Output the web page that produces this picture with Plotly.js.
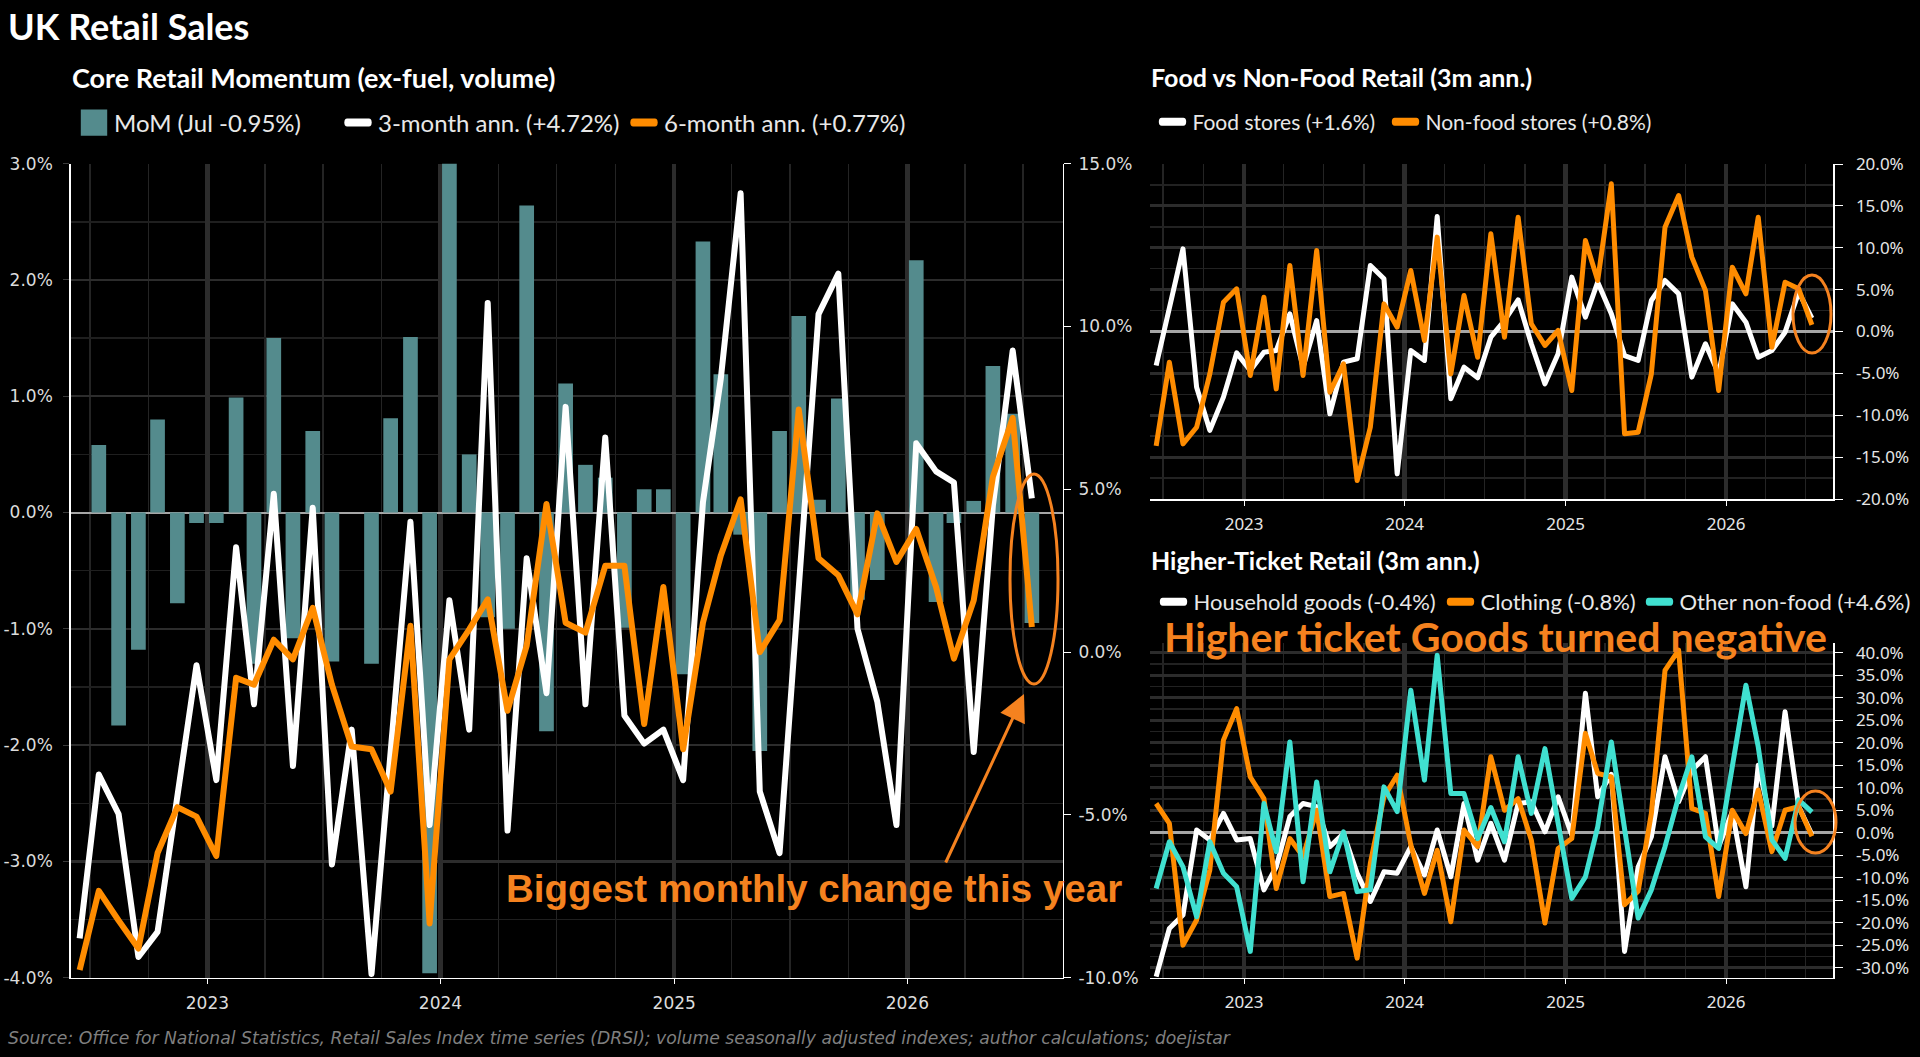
<!DOCTYPE html>
<html>
<head>
<meta charset="utf-8">
<title>UK Retail Sales</title>
<script src="https://cdn.plot.ly/plotly-3.0.1.min.js"></script>
<style>
  html, body { margin: 0; padding: 0; background: #000; }
  #chart { width: 1920px; height: 1057px; }
  .js-line { stroke-linejoin: round; }
  /* chunkier legend keys, like the original */
  .legendlines path {
    stroke-width: 8px !important;
    stroke-linecap: round;
    transform: translate(20px, 0px) scale(0.72, 1) translate(-20px, 0px);
  }
  .legendpoints path { transform: translate(20px, 0px) scale(2.2) !important; }
</style>
</head>
<body>
<div id="chart"></div>
<script>
// Monthly observations, Jun 2022 .. Jul 2026
const MONTHS = [
  '2022-06', '2022-07', '2022-08', '2022-09', '2022-10', '2022-11', '2022-12',
  '2023-01', '2023-02', '2023-03', '2023-04', '2023-05', '2023-06',
  '2023-07', '2023-08', '2023-09', '2023-10', '2023-11', '2023-12',
  '2024-01', '2024-02', '2024-03', '2024-04', '2024-05', '2024-06',
  '2024-07', '2024-08', '2024-09', '2024-10', '2024-11', '2024-12',
  '2025-01', '2025-02', '2025-03', '2025-04', '2025-05', '2025-06',
  '2025-07', '2025-08', '2025-09', '2025-10', '2025-11', '2025-12',
  '2026-01', '2026-02', '2026-03', '2026-04', '2026-05', '2026-06', '2026-07'
];

// Core retail momentum (%)
const MOM = [
  null, 0.58, -1.83, -1.18, 0.80, -0.78, -0.09, -0.09, 0.99, -1.30,
  1.50, -1.08, 0.70, -1.28, 0.00, -1.30, 0.81, 1.51, -3.96, 3.00,
  0.50, -0.90, -1.00, 2.64, -1.88, 1.11, 0.41, 0.30, -0.99, 0.20,
  0.20, -1.39, 2.33, 1.19, -0.19, -2.05, 0.70, 1.69, 0.11, 0.98,
  -0.75, -0.58, 0.00, 2.17, -0.77, -0.09, 0.10, 1.26, 0.85, -0.95
];
const ANN_3M = [
  -8.79, -3.76, -4.97, -9.36, -8.59, -4.5, -0.40, -3.93, 3.22, -1.60,
  4.86, -3.50, 4.43, -6.52, -2.38, -9.88, -2.9, 4.0, -5.31, 1.59,
  -2.38, 10.72, -5.48, 2.88, -1.26, 7.53, -1.60, 6.59, -1.95, -2.81,
  -2.38, -3.93, 4.6, 8.4, 14.09, -4.28, -6.17, 2.2, 10.38, 11.62,
  0.72, -1.52, -5.31, 6.41, 5.55, 5.21, -3.07, 4.5, 9.26, 4.72
];
const ANN_6M = [
  -9.76, -7.33, -8.24, -9.10, -6.17, -4.76, -5.05, -6.26, -0.79, -1.0,
  0.38, -0.22, 1.36, -1.0, -2.90, -2.98, -4.28, 0.81, -8.33, -0.22,
  0.7, 1.62, -1.8, 0.2, 4.55, 0.9, 0.6, 2.65, 2.65, -2.21,
  2.0, -2.98, 0.90, 2.97, 4.69, 0.0, 0.98, 7.45, 2.88, 2.36,
  1.16, 4.26, 2.77, 3.78, 2.0, -0.2, 1.59, 5.38, 7.19, 0.77
];

// Food vs non-food (3m ann., %)
const FOOD = [
  -4.06, 2.9, 9.87, -6.65, -11.8, -7.84, -2.55, -4.66, -2.47, -2.27,
  2.11, -4.26, 1.31, -9.83, -3.66, -3.26, 7.88, 6.29, -17.0, -2.27,
  -3.46, 13.73, -8.04, -4.26, -5.53, -0.68, 1.31, 3.78, -1.47, -6.25,
  -2.67, 6.49, 1.71, 5.89, 2.11, -2.87, -3.46, 3.70, 6.09, 4.50,
  -5.45, -1.47, -5.06, 3.30, 1.11, -3.07, -2.27, -0.08, 4.70, 1.6
];
const NON_FOOD = [
  -13.65, -3.66, -13.42, -11.43, -5.06, 3.50, 5.10, -5.25, 4.10, -6.85,
  7.88, -5.25, 9.67, -7.25, -3.86, -17.8, -11.43, 3.30, 0.52, 7.29,
  -1.07, 11.27, -5.06, 4.30, -3.07, 11.66, -0.68, 13.65, 0.92, -1.67,
  0.12, -7.05, 10.87, 6.09, 17.64, -12.22, -12.02, -5.06, 12.46, 16.24,
  8.88, 4.90, -7.05, 7.68, 4.50, 13.65, -1.87, 5.89, 5.10, 0.8
];

// Higher-ticket retail (3m ann., %)
const HOUSEHOLD = [
  -32.0, -21.3, -18.3, 0.6, -1.6, 4.3, -1.6, -1.3, -12.7, -7.6,
  3.6, 6.5, 5.8, -3.1, -0.2, -9.0, -15.3, -8.7, -9.0, -3.1,
  -9.4, 0.6, -9.8, 6.5, -6.1, 2.1, -6.1, 6.5, 6.9, 0.2,
  8.0, -0.5, 31.0, 8.0, 13.0, -26.4, -7.6, -0.9, 16.9, 6.9,
  13.9, 16.9, -3.1, 4.7, -12.0, 15.0, 1.5, 26.9, 5.8, -0.4
];
const CLOTHING = [
  6.5, 2.1, -25.0, -19.4, -8.3, 20.6, 27.6, 12.4, 7.6, -12.4,
  -1.3, -5.3, 5.0, -14.2, -13.5, -27.9, -6.8, 8.0, 12.8, -2.7,
  -13.5, -3.9, -19.8, 0.6, -3.1, 16.9, 5.0, 7.6, -1.6, -20.1,
  -3.5, -1.3, 22.1, 13.2, 12.4, -16.0, -13.0, 4.3, 36.1, 40.6,
  5.4, 4.3, -14.2, 5.0, -0.2, 9.5, -4.2, 5.0, 5.8, -0.8
];
const OTHER_NON_FOOD = [
  -12.4, -2.0, -7.6, -18.7, -2.0, -9.0, -12.0, -26.4, 6.5, -4.2,
  20.2, -10.9, 11.3, -8.7, 0.2, -13.1, -12.7, 10.2, 4.7, 31.7,
  11.7, 39.5, 8.7, 8.7, -1.3, 5.6, -2.0, 16.9, 4.3, 18.7,
  2.1, -14.6, -9.8, 1.3, 20.2, 0.6, -19.0, -12.7, -3.1, 8.0,
  16.9, -0.9, -3.5, 14.7, 32.8, 19.1, -1.6, -5.7, 7.3, 4.6
];

// Tick labels (plain hyphen minus, as in the original)
const MOM_TICKS = [-4, -3, -2, -1, 0, 1, 2, 3];
const MOM_LABELS = ['-4.0%', '-3.0%', '-2.0%', '-1.0%', '0.0%', '1.0%', '2.0%', '3.0%'];
const ANN_TICKS = [-10, -5, 0, 5, 10, 15];
const ANN_LABELS = ['-10.0%', '-5.0%', '0.0%', '5.0%', '10.0%', '15.0%'];
const FOOD_TICKS = [-20, -15, -10, -5, 0, 5, 10, 15, 20];
const FOOD_LABELS = ['-20.0%', '-15.0%', '-10.0%', '-5.0%', '0.0%', '5.0%', '10.0%', '15.0%', '20.0%'];
const TICKET_TICKS = [-30, -25, -20, -15, -10, -5, 0, 5, 10, 15, 20, 25, 30, 35, 40];
const TICKET_LABELS = ['-30.0%', '-25.0%', '-20.0%', '-15.0%', '-10.0%', '-5.0%', '0.0%', '5.0%',
  '10.0%', '15.0%', '20.0%', '25.0%', '30.0%', '35.0%', '40.0%'];

const NAMES = {
  mom: 'MoM (Jul -0.95%)',
  ann3: '3-month ann. (+4.72%)',
  ann6: '6-month ann. (+0.77%)',
  food: 'Food stores (+1.6%)',
  nonFood: 'Non-food stores (+0.8%)',
  household: 'Household goods (-0.4%)',
  clothing: 'Clothing (-0.8%)',
  other: 'Other non-food (+4.6%)'
};

// Colours
const WHITE = '#ffffff';
const ORANGE = '#ff8c00';
const TEAL = '#40e0d0';
const BAR = '#548b8d';
const NOTE = '#f5821f';

// Pixel helpers (canvas is 1920 x 1057, no margins)
const W = 1920, H = 1057;
const px = x => x / W;
const py = y => 1 - y / H;

// Plot at mid-month
const dates = MONTHS.map(m => m + '-15');

const traces = [
  { type: 'bar', x: dates, y: MOM, name: NAMES.mom, xaxis: 'x', yaxis: 'y',
    marker: { color: BAR }, width: 23 * 86400000, legend: 'legend', legendwidth: 219 },
  { type: 'scatter', mode: 'lines', x: dates, y: ANN_3M, name: NAMES.ann3, xaxis: 'x', yaxis: 'y2',
    line: { color: WHITE, width: 6 }, legend: 'legend', legendwidth: 241 },
  { type: 'scatter', mode: 'lines', x: dates, y: ANN_6M, name: NAMES.ann6, xaxis: 'x', yaxis: 'y2',
    line: { color: ORANGE, width: 6 }, legend: 'legend' },

  { type: 'scatter', mode: 'lines', x: dates, y: FOOD, name: NAMES.food, xaxis: 'x2', yaxis: 'y3',
    line: { color: WHITE, width: 5 }, legend: 'legend2', legendwidth: 188 },
  { type: 'scatter', mode: 'lines', x: dates, y: NON_FOOD, name: NAMES.nonFood, xaxis: 'x2', yaxis: 'y3',
    line: { color: ORANGE, width: 5 }, legend: 'legend2' },

  { type: 'scatter', mode: 'lines', x: dates, y: HOUSEHOLD, name: NAMES.household, xaxis: 'x3', yaxis: 'y4',
    line: { color: WHITE, width: 5 }, legend: 'legend3', legendwidth: 242 },
  { type: 'scatter', mode: 'lines', x: dates, y: CLOTHING, name: NAMES.clothing, xaxis: 'x3', yaxis: 'y4',
    line: { color: ORANGE, width: 5 }, legend: 'legend3', legendwidth: 154 },
  { type: 'scatter', mode: 'lines', x: dates, y: OTHER_NON_FOOD, name: NAMES.other, xaxis: 'x3', yaxis: 'y4',
    line: { color: TEAL, width: 5 }, legend: 'legend3' }
];

const mainTickFont = { family: 'DejaVu Sans', size: 17, color: '#dcdcdc' };
const sideTickFont = { family: 'Noto Sans', size: 17, color: '#e6e6e6' };

function dateAxis(domain, anchor, font) {
  return {
    type: 'date', domain: domain, anchor: anchor,
    range: ['2022-06-01', '2026-09-01'],
    tick0: '2023-01-01', dtick: 'M12', tickformat: '%Y',
    showgrid: true, gridcolor: '#2c2c2c', gridwidth: 4.5,
    minor: { dtick: 'M3', showgrid: true, gridcolor: '#242424', gridwidth: 1.5 },
    showline: true, linecolor: WHITE, linewidth: 1.5,
    ticks: 'outside', ticklen: 5, tickcolor: WHITE, tickwidth: 1,
    ticklabelstandoff: 4,
    tickfont: font, zeroline: false, fixedrange: true
  };
}

function pctAxis(ticks, labels, opts) {
  return Object.assign({
    tickmode: 'array', tickvals: ticks, ticktext: labels,
    showline: true, linecolor: WHITE, linewidth: 1.5,
    ticks: 'outside', tickcolor: WHITE, ticklen: 7,
    fixedrange: true
  }, opts);
}

const mainDomainX = [px(70.7), px(1062.5)];
const mainDomainY = [py(977.8), py(163.6)];
const sideDomainX = [px(1150), px(1833)];

function legendAt(x, y, size) {
  return {
    x: px(x), y: py(y), xanchor: 'left', yanchor: 'middle', orientation: 'h',
    font: { family: 'Lato', size: size, color: '#e8e8e8' },
    bgcolor: 'rgba(0,0,0,0)', borderwidth: 0
  };
}

function label(text, x, y, size, family, color) {
  return {
    text: text, x: px(x), y: py(y), xref: 'paper', yref: 'paper',
    xanchor: 'left', yanchor: 'middle', showarrow: false,
    font: { family: family, size: size, color: color }
  };
}

const layout = {
  width: W, height: H,
  // keep the legends from pushing the plot areas around
  margin: { l: 0, r: 0, t: 0, b: 0, autoexpand: false },
  paper_bgcolor: '#000000',
  plot_bgcolor: '#000000',
  hovermode: false,
  barmode: 'overlay',

  xaxis: dateAxis(mainDomainX, 'y', mainTickFont),
  yaxis: pctAxis(MOM_TICKS, MOM_LABELS, {
    domain: mainDomainY, anchor: 'x', side: 'left', range: [-4, 3],
    showgrid: true, gridcolor: '#2c2c2c', gridwidth: 2.5,
    minor: { tickmode: 'linear', tick0: 0, dtick: 0.5, showgrid: true, gridcolor: '#1f1f1f', gridwidth: 1.5 },
    zeroline: true, zerolinecolor: '#a6a6a6', zerolinewidth: 2,
    tickcolor: '#3a3a3a', ticklen: 6, ticklabelstandoff: 7,
    tickfont: mainTickFont
  }),
  yaxis2: pctAxis(ANN_TICKS, ANN_LABELS, {
    overlaying: 'y', anchor: 'x', side: 'right', range: [-10, 15],
    showgrid: false, zeroline: false, ticklabelstandoff: 4,
    tickfont: mainTickFont
  }),

  xaxis2: dateAxis(sideDomainX, 'y3', sideTickFont),
  yaxis3: pctAxis(FOOD_TICKS, FOOD_LABELS, {
    domain: [py(499), py(164)], anchor: 'x2', side: 'right', range: [-20, 20],
    showgrid: true, gridcolor: '#2c2c2c', gridwidth: 3,
    minor: { tickmode: 'linear', tick0: 0, dtick: 2.5, showgrid: true, gridcolor: '#222222', gridwidth: 1.5 },
    zeroline: true, zerolinecolor: '#a6a6a6', zerolinewidth: 2.5,
    ticklen: 8, ticklabelstandoff: 10, tickfont: sideTickFont
  }),

  xaxis3: dateAxis(sideDomainX, 'y4', sideTickFont),
  yaxis4: pctAxis(TICKET_TICKS, TICKET_LABELS, {
    domain: [py(977.5), py(643)], anchor: 'x3', side: 'right', range: [-32.2, 42.2],
    showgrid: true, gridcolor: '#2c2c2c', gridwidth: 3,
    minor: { tickmode: 'linear', tick0: 0, dtick: 2.5, showgrid: true, gridcolor: '#222222', gridwidth: 1.5 },
    zeroline: true, zerolinecolor: '#a6a6a6', zerolinewidth: 2.5,
    ticklen: 8, ticklabelstandoff: 10, tickfont: sideTickFont
  }),

  legend: legendAt(74, 123, 24),
  legend2: legendAt(1152.5, 122, 21),
  legend3: legendAt(1153.5, 602, 22),

  annotations: [
    label('<b>UK Retail Sales</b>', 6, 26, 36, 'Lato', WHITE),
    label('<b>Core Retail Momentum (ex-fuel, volume)</b>', 70, 77, 27, 'Lato', WHITE),
    label('<b>Food vs Non-Food Retail (3m ann.)</b>', 1149, 77, 25, 'Lato', WHITE),
    label('<b>Higher-Ticket Retail (3m ann.)</b>', 1149, 560, 25, 'Lato', WHITE),
    label('<b>Biggest monthly change this year</b>', 504, 888, 38.5, 'Liberation Sans', NOTE),
    label('<b>Higher ticket Goods turned negative</b>', 1162, 636, 41, 'Lato', NOTE),
    { text: '', x: px(1024), y: py(694), xref: 'paper', yref: 'paper',
      showarrow: true, ax: -79, ay: 170, arrowcolor: NOTE, arrowwidth: 3, arrowhead: 2, arrowsize: 1.8 },
    label('<i>Source: Office for National Statistics, Retail Sales Index time series (DRSI); volume seasonally adjusted indexes; author calculations; doejistar</i>',
      6, 1038, 17.2, 'DejaVu Sans', '#7f7f7f')
  ],

  shapes: [
    { type: 'circle', xref: 'paper', yref: 'paper',
      x0: px(1010), x1: px(1058), y0: py(684), y1: py(474),
      line: { color: NOTE, width: 3 } },
    { type: 'circle', xref: 'paper', yref: 'paper',
      x0: px(1793), x1: px(1831), y0: py(353), y1: py(275),
      line: { color: NOTE, width: 3 } },
    { type: 'circle', xref: 'paper', yref: 'paper',
      x0: px(1795), x1: px(1836), y0: py(853), y1: py(791),
      line: { color: NOTE, width: 3 } }
  ]
};

Plotly.newPlot('chart', traces, layout, { displayModeBar: false, staticPlot: true });
</script>
</body>
</html>
